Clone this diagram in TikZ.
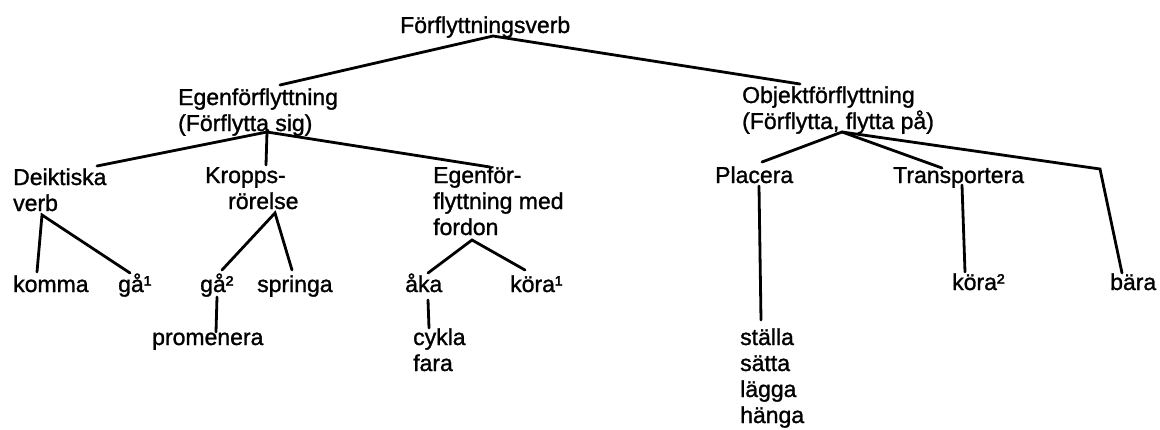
\documentclass[tikz,border=0pt]{standalone}
\usepackage{fontspec}
\setmainfont{Liberation Sans}
\newfontface\treefont{Liberation Sans}[FakeBold=1.2]

\begin{document}
\begin{tikzpicture}[x=1pt,y=-1pt,
  lab/.style={font=\treefont\fontsize{23}{26}\selectfont,align=left,inner sep=0pt,anchor=base west},
  br/.style={line width=2.8pt,line cap=round}
]
\useasboundingbox (0,0) rectangle (1160,429);
\node[lab] (root) at (400,33) {Förflyttningsverb};
\node[lab] (egen) at (178,131) {Egenförflyttning\\(Förflytta sig)};
\node[lab] (objekt) at (742,129) {Objektförflyttning\\(Förflytta, flytta på)};
\node[lab] (deikt) at (13,211) {Deiktiska\\verb};
\node[lab] (kropp) at (205,209) {Kropps-\\\hspace*{23pt}rörelse};
\node[lab] (egenfor) at (433,235) {Egenför-\\flyttning med\\fordon};
\node[lab] (komma) at (13,292) {komma};
\node[lab] (gaa1) at (118,292) {gå¹};
\node[lab] (gaa2) at (200,292) {gå²};
\node[lab] (springa) at (257,292) {springa};
\node[lab] (promenera) at (152,345) {promenera};
\node[lab] (aaka) at (405,292) {åka};
\node[lab] (kora1) at (510,292) {köra¹};
\node[lab] (cykla) at (413,371) {cykla\\fara};
\node[lab] (placera) at (715,183) {Placera};
\node[lab] (transp) at (893,183) {Transportera};
\node[lab] (kora2) at (952,290) {köra²};
\node[lab] (baera) at (1110,290) {bära};
\node[lab] (staella) at (740,423) {ställa\\sätta\\lägga\\hänga};
\coordinate (rootJ) at ([xshift=93pt,yshift=-3pt]root.base west);
\coordinate (egenJ) at ([xshift=89pt,yshift=-1pt]egen.base west);
\coordinate (deiktJ) at ([xshift=29pt,yshift=-4pt]deikt.base west);
\coordinate (kroppJ) at ([xshift=70pt,yshift=-4pt]kropp.base west);
\coordinate (fordonJ) at ([xshift=39pt,yshift=-5pt]egenfor.base west);
\coordinate (objektJ) at ([xshift=100pt,yshift=-3pt]objekt.base west);
\coordinate (baeraK) at (1100,169);
\draw[br] ([xshift=102pt,yshift=46pt]egen.base west) -- (rootJ)
  -- ([xshift=58pt,yshift=45pt]objekt.base west);
\draw[br] ([xshift=84pt,yshift=45pt]deikt.base west) -- (egenJ)
  -- ([xshift=57pt,yshift=68pt]egenfor.base west);
\draw[br] (egenJ) -- ([xshift=61pt,yshift=44pt]kropp.base west);
\draw[br] ([xshift=24pt,yshift=20pt]komma.base west) -- (deiktJ)
  -- ([xshift=12pt,yshift=19pt]gaa1.base west);
\draw[br] ([xshift=22pt,yshift=22pt]gaa2.base west) -- (kroppJ)
  -- ([xshift=35pt,yshift=22pt]springa.base west);
\draw[br] ([xshift=17pt,yshift=-5pt]gaa2.base west)
  -- ([xshift=64pt,yshift=13pt]promenera.base west);
\draw[br] ([xshift=23pt,yshift=19pt]aaka.base west) -- (fordonJ)
  -- ([xshift=15pt,yshift=22pt]kora1.base west);
\draw[br] ([xshift=23pt,yshift=-8pt]aaka.base west)
  -- ([xshift=16pt,yshift=43pt]cykla.base west);
\draw[br] ([xshift=47pt,yshift=21pt]placera.base west) -- (objektJ)
  -- ([xshift=49pt,yshift=15pt]transp.base west);
\draw[br] (objektJ) -- (baeraK) -- ([xshift=12pt,yshift=17pt]baera.base west);
\draw[br] ([xshift=44pt,yshift=-3pt]placera.base west)
  -- ([xshift=21pt,yshift=103pt]staella.base west);
\draw[br] ([xshift=69pt,yshift=-2pt]transp.base west)
  -- ([xshift=13pt,yshift=18pt]kora2.base west);
\end{tikzpicture}
\end{document}
